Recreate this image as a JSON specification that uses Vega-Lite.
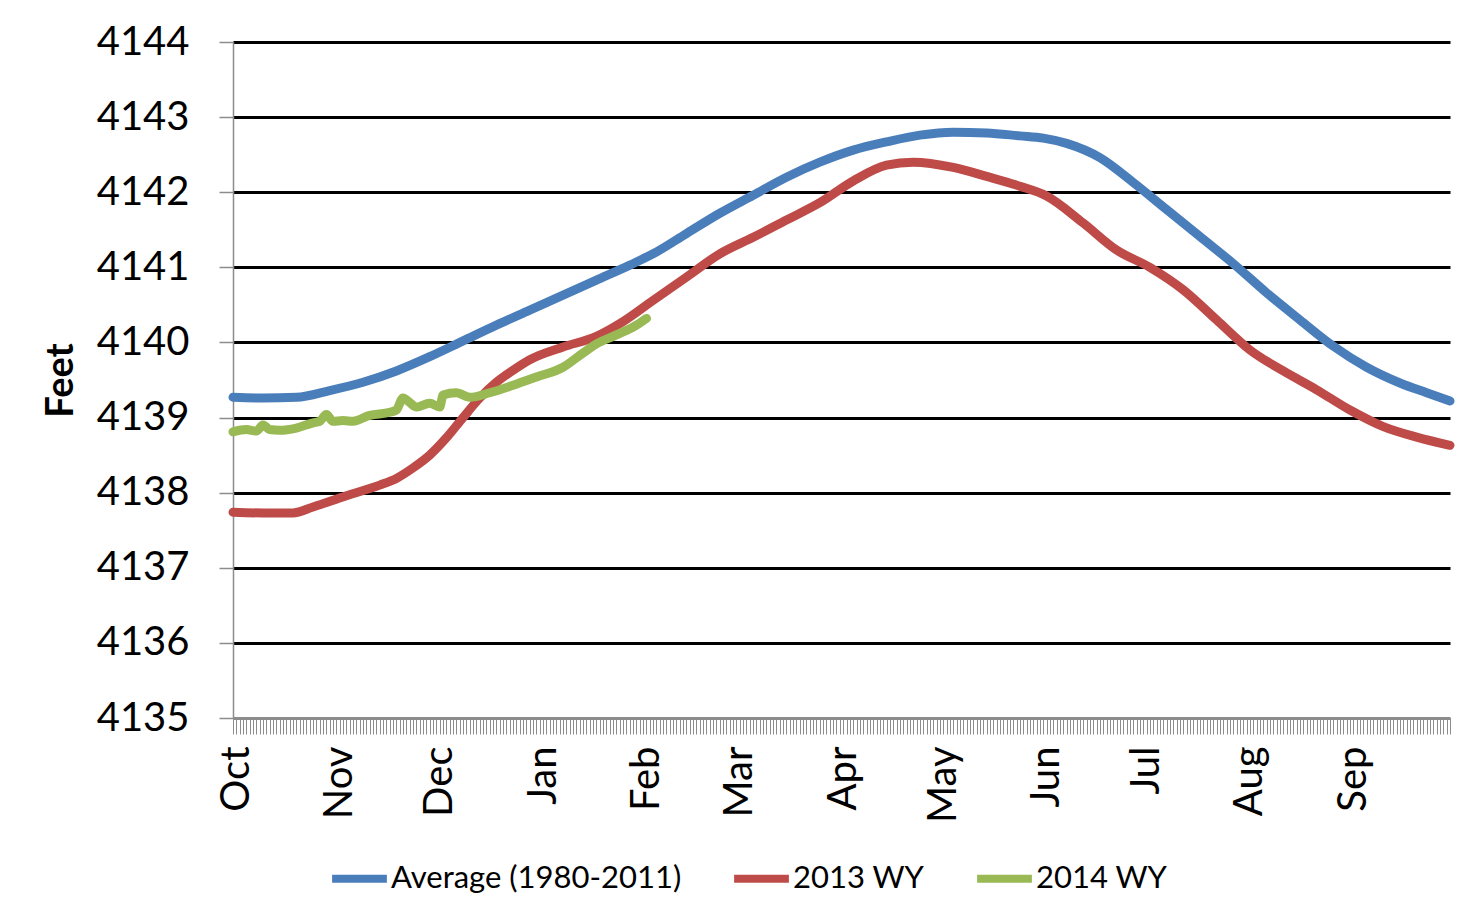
{
  "$schema": "https://vega.github.io/schema/vega-lite/v6.json",
  "width": 1217,
  "height": 676,
  "autosize": "none",
  "padding": {"left": 233, "top": 42, "right": 30, "bottom": 203},
  "background": "white",
  "config": {
    "font": "Lato",
    "view": {"stroke": null}
  },
  "data": {
    "values": [
      {"series": "Average (1980-2011)", "day": 0, "feet": 4139.27},
      {"series": "Average (1980-2011)", "day": 9, "feet": 4139.26},
      {"series": "Average (1980-2011)", "day": 19, "feet": 4139.27},
      {"series": "Average (1980-2011)", "day": 29, "feet": 4139.36},
      {"series": "Average (1980-2011)", "day": 39, "feet": 4139.47},
      {"series": "Average (1980-2011)", "day": 49, "feet": 4139.62},
      {"series": "Average (1980-2011)", "day": 59, "feet": 4139.81},
      {"series": "Average (1980-2011)", "day": 69, "feet": 4140.02},
      {"series": "Average (1980-2011)", "day": 79, "feet": 4140.23},
      {"series": "Average (1980-2011)", "day": 89, "feet": 4140.43},
      {"series": "Average (1980-2011)", "day": 99, "feet": 4140.63},
      {"series": "Average (1980-2011)", "day": 109, "feet": 4140.83},
      {"series": "Average (1980-2011)", "day": 119, "feet": 4141.03},
      {"series": "Average (1980-2011)", "day": 126, "feet": 4141.18},
      {"series": "Average (1980-2011)", "day": 136, "feet": 4141.45},
      {"series": "Average (1980-2011)", "day": 146, "feet": 4141.72},
      {"series": "Average (1980-2011)", "day": 156, "feet": 4141.96},
      {"series": "Average (1980-2011)", "day": 166, "feet": 4142.20},
      {"series": "Average (1980-2011)", "day": 176, "feet": 4142.40},
      {"series": "Average (1980-2011)", "day": 186, "feet": 4142.56},
      {"series": "Average (1980-2011)", "day": 196, "feet": 4142.67},
      {"series": "Average (1980-2011)", "day": 206, "feet": 4142.76},
      {"series": "Average (1980-2011)", "day": 216, "feet": 4142.80},
      {"series": "Average (1980-2011)", "day": 226, "feet": 4142.79},
      {"series": "Average (1980-2011)", "day": 236, "feet": 4142.75},
      {"series": "Average (1980-2011)", "day": 243, "feet": 4142.72},
      {"series": "Average (1980-2011)", "day": 250, "feet": 4142.65},
      {"series": "Average (1980-2011)", "day": 260, "feet": 4142.46},
      {"series": "Average (1980-2011)", "day": 270, "feet": 4142.13},
      {"series": "Average (1980-2011)", "day": 280, "feet": 4141.77},
      {"series": "Average (1980-2011)", "day": 290, "feet": 4141.41},
      {"series": "Average (1980-2011)", "day": 300, "feet": 4141.05},
      {"series": "Average (1980-2011)", "day": 310, "feet": 4140.66},
      {"series": "Average (1980-2011)", "day": 320, "feet": 4140.30},
      {"series": "Average (1980-2011)", "day": 330, "feet": 4139.95},
      {"series": "Average (1980-2011)", "day": 340, "feet": 4139.67},
      {"series": "Average (1980-2011)", "day": 350, "feet": 4139.46},
      {"series": "Average (1980-2011)", "day": 358, "feet": 4139.33},
      {"series": "Average (1980-2011)", "day": 365, "feet": 4139.22},
      {"series": "2013 WY", "day": 0, "feet": 4137.74},
      {"series": "2013 WY", "day": 9, "feet": 4137.73},
      {"series": "2013 WY", "day": 18, "feet": 4137.73},
      {"series": "2013 WY", "day": 24, "feet": 4137.81},
      {"series": "2013 WY", "day": 34, "feet": 4137.96},
      {"series": "2013 WY", "day": 44, "feet": 4138.10},
      {"series": "2013 WY", "day": 49, "feet": 4138.19},
      {"series": "2013 WY", "day": 54, "feet": 4138.33},
      {"series": "2013 WY", "day": 59, "feet": 4138.50},
      {"series": "2013 WY", "day": 64, "feet": 4138.73},
      {"series": "2013 WY", "day": 69, "feet": 4139.00},
      {"series": "2013 WY", "day": 74, "feet": 4139.26},
      {"series": "2013 WY", "day": 79, "feet": 4139.47},
      {"series": "2013 WY", "day": 84, "feet": 4139.63},
      {"series": "2013 WY", "day": 89, "feet": 4139.77},
      {"series": "2013 WY", "day": 99, "feet": 4139.94},
      {"series": "2013 WY", "day": 109, "feet": 4140.08},
      {"series": "2013 WY", "day": 116, "feet": 4140.25},
      {"series": "2013 WY", "day": 126, "feet": 4140.56},
      {"series": "2013 WY", "day": 136, "feet": 4140.87},
      {"series": "2013 WY", "day": 146, "feet": 4141.18},
      {"series": "2013 WY", "day": 156, "feet": 4141.40},
      {"series": "2013 WY", "day": 166, "feet": 4141.63},
      {"series": "2013 WY", "day": 176, "feet": 4141.86},
      {"series": "2013 WY", "day": 186, "feet": 4142.15},
      {"series": "2013 WY", "day": 196, "feet": 4142.36},
      {"series": "2013 WY", "day": 204, "feet": 4142.40},
      {"series": "2013 WY", "day": 216, "feet": 4142.33},
      {"series": "2013 WY", "day": 226, "feet": 4142.21},
      {"series": "2013 WY", "day": 236, "feet": 4142.08},
      {"series": "2013 WY", "day": 244, "feet": 4141.95},
      {"series": "2013 WY", "day": 255, "feet": 4141.59},
      {"series": "2013 WY", "day": 265, "feet": 4141.23},
      {"series": "2013 WY", "day": 275, "feet": 4141.00},
      {"series": "2013 WY", "day": 285, "feet": 4140.70},
      {"series": "2013 WY", "day": 295, "feet": 4140.30},
      {"series": "2013 WY", "day": 305, "feet": 4139.90},
      {"series": "2013 WY", "day": 315, "feet": 4139.62},
      {"series": "2013 WY", "day": 325, "feet": 4139.37},
      {"series": "2013 WY", "day": 335, "feet": 4139.10},
      {"series": "2013 WY", "day": 345, "feet": 4138.88},
      {"series": "2013 WY", "day": 355, "feet": 4138.74},
      {"series": "2013 WY", "day": 365, "feet": 4138.63},
      {"series": "2014 WY", "day": 0, "feet": 4138.81},
      {"series": "2014 WY", "day": 4, "feet": 4138.84},
      {"series": "2014 WY", "day": 7, "feet": 4138.82},
      {"series": "2014 WY", "day": 9, "feet": 4138.90},
      {"series": "2014 WY", "day": 11, "feet": 4138.84},
      {"series": "2014 WY", "day": 14, "feet": 4138.83},
      {"series": "2014 WY", "day": 19, "feet": 4138.86},
      {"series": "2014 WY", "day": 24, "feet": 4138.93},
      {"series": "2014 WY", "day": 26, "feet": 4138.95},
      {"series": "2014 WY", "day": 28, "feet": 4139.04},
      {"series": "2014 WY", "day": 30, "feet": 4138.95},
      {"series": "2014 WY", "day": 33, "feet": 4138.96},
      {"series": "2014 WY", "day": 36, "feet": 4138.95},
      {"series": "2014 WY", "day": 41, "feet": 4139.03},
      {"series": "2014 WY", "day": 47, "feet": 4139.07},
      {"series": "2014 WY", "day": 49, "feet": 4139.10},
      {"series": "2014 WY", "day": 51, "feet": 4139.26},
      {"series": "2014 WY", "day": 53, "feet": 4139.20},
      {"series": "2014 WY", "day": 55, "feet": 4139.14},
      {"series": "2014 WY", "day": 59, "feet": 4139.19},
      {"series": "2014 WY", "day": 62, "feet": 4139.14},
      {"series": "2014 WY", "day": 63, "feet": 4139.30},
      {"series": "2014 WY", "day": 67, "feet": 4139.33},
      {"series": "2014 WY", "day": 71, "feet": 4139.27},
      {"series": "2014 WY", "day": 77, "feet": 4139.33},
      {"series": "2014 WY", "day": 84, "feet": 4139.43},
      {"series": "2014 WY", "day": 91, "feet": 4139.54},
      {"series": "2014 WY", "day": 99, "feet": 4139.67},
      {"series": "2014 WY", "day": 105, "feet": 4139.86},
      {"series": "2014 WY", "day": 109, "feet": 4139.98},
      {"series": "2014 WY", "day": 115, "feet": 4140.10},
      {"series": "2014 WY", "day": 121, "feet": 4140.23},
      {"series": "2014 WY", "day": 124, "feet": 4140.32}
    ]
  },
  "mark": {"type": "line", "strokeWidth": 9, "interpolate": "monotone", "strokeCap": "round", "strokeJoin": "round"},
  "encoding": {
    "x": {
      "field": "day",
      "type": "quantitative",
      "scale": {"domain": [0, 365], "nice": false, "zero": false},
      "axis": {
        "title": null,
        "tickCount": 365,
        "grid": false,
        "domainColor": "#8c8c8c",
        "domainWidth": 1.5,
        "tickColor": "#8c8c8c",
        "tickWidth": 1,
        "tickSize": 16,
        "labelOverlap": false,
        "labelFlush": false,
        "labelBound": false,
        "labelAngle": -90,
        "labelAlign": "right",
        "labelBaseline": "middle",
        "labelPadding": 12,
        "labelFont": "Lato",
        "labelFontSize": 40,
        "labelColor": "black",
        "labelExpr": "indexof([1,32,62,93,124,152,183,213,244,274,305,336], datum.value) >= 0 ? ['Oct','Nov','Dec','Jan','Feb','Mar','Apr','May','Jun','Jul','Aug','Sep'][indexof([1,32,62,93,124,152,183,213,244,274,305,336], datum.value)] : ''"
      }
    },
    "y": {
      "field": "feet",
      "type": "quantitative",
      "scale": {"domain": [4135, 4144], "nice": false, "zero": false},
      "axis": {
        "title": "Feet",
        "titleFont": "Lato",
        "titleFontSize": 38,
        "titleFontWeight": "bold",
        "titleColor": "black",
        "titlePadding": 16,
        "values": [4135, 4136, 4137, 4138, 4139, 4140, 4141, 4142, 4143, 4144],
        "format": "d",
        "grid": true,
        "gridColor": {"condition": {"test": "datum.value === 4135", "value": "#8c8c8c"}, "value": "black"},
        "gridWidth": 3,
        "domainColor": "#8c8c8c",
        "domainWidth": 1.5,
        "tickColor": "#8c8c8c",
        "tickWidth": 1.5,
        "tickSize": 14,
        "labelPadding": 30,
        "labelFont": "Lato",
        "labelFontSize": 40,
        "labelColor": "black"
      }
    },
    "color": {
      "field": "series",
      "type": "nominal",
      "scale": {
        "domain": ["Average (1980-2011)", "2013 WY", "2014 WY"],
        "range": ["#4A7EBB", "#BE4B48", "#98B954"]
      },
      "legend": {
        "title": null,
        "orient": "none",
        "direction": "horizontal",
        "legendX": 95,
        "legendY": 805,
        "symbolType": "stroke",
        "symbolSize": 3000,
        "symbolStrokeWidth": 8,
        "labelFont": "Lato",
        "labelFontSize": 31,
        "labelColor": "black",
        "labelOffset": 0,
        "columnPadding": 36,
        "padding": 0,
        "labelLimit": 500
      }
    }
  }
}
